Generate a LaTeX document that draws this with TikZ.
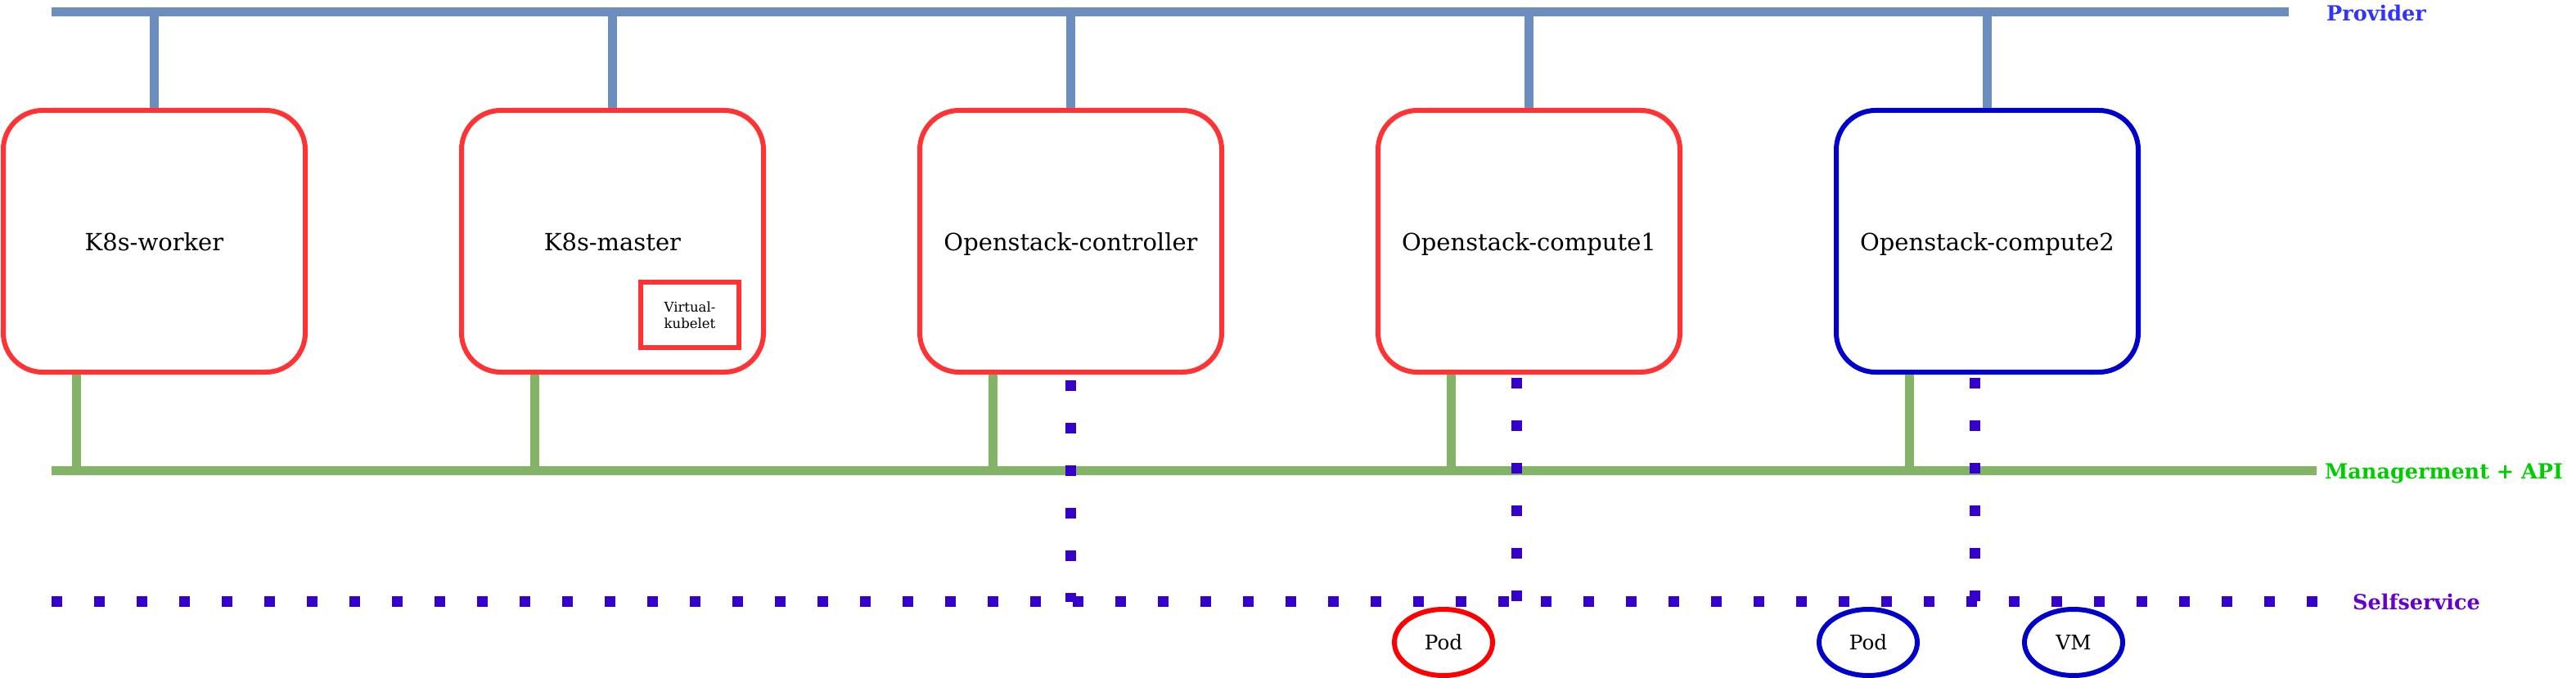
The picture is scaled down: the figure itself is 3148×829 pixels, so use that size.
\documentclass[tikz,border=0pt]{standalone}
\usepackage{fontspec}
\setmainfont{DejaVu Serif}
\usetikzlibrary{shapes.geometric,calc}
\definecolor{provc}{HTML}{6C8EBF}
\definecolor{mgmtc}{HTML}{82B366}
\definecolor{redc}{HTML}{FF3333}
\definecolor{bluec}{HTML}{0000CC}
\definecolor{dotc}{HTML}{3300CC}
\definecolor{podred}{HTML}{FF0000}
\definecolor{provtxt}{HTML}{3333FF}
\definecolor{mgmttxt}{HTML}{00CC00}
\definecolor{selftxt}{HTML}{6600CC}
\tikzset{
 hostbox/.style={draw=redc, line width=6pt, rounded corners=48pt, minimum width=369pt, minimum height=320pt, inner sep=0pt, text height=22pt, text depth=0pt, font=\fontsize{29}{34}\selectfont},
 bluehost/.style={hostbox, draw=bluec},
 vkbox/.style={draw=redc, line width=6pt, minimum width=120pt, minimum height=80pt, inner sep=0pt, align=center, font=\fontsize{16.5}{20}\selectfont},
 podnode/.style={ellipse, draw=podred, line width=6pt, minimum width=120pt, minimum height=81pt, inner sep=0pt, text height=18pt, text depth=0pt, font=\fontsize{24.7}{30}\selectfont},
 bluepod/.style={podnode, draw=bluec},
 provline/.style={draw=provc, line width=11pt},
 mgmtline/.style={draw=mgmtc, line width=11pt},
 selfline/.style={draw=dotc, line width=13pt, dash pattern=on 13pt off 39pt},
 netlabel/.style={anchor=base west, inner sep=0pt, font=\fontsize{25.5}{31}\selectfont\bfseries},
}
\begin{document}
\begin{tikzpicture}[x=1pt,y=-1pt]
\useasboundingbox (0,0) rectangle (3148,829);
% hosts
\node[hostbox] (w) at (188.5,295) {K8s-worker};
\node[hostbox] (m) at (748.5,295) {K8s-master};
\node[hostbox] (c) at (1308.5,295) {Openstack-controller};
\node[hostbox] (c1) at (1868.5,295) {Openstack-compute1};
\node[bluehost] (c2) at (2428.5,295) {Openstack-compute2};
\node[vkbox] (vk) at (843,385) {Virtual-\\kubelet};
% bus end points
\coordinate (pL) at (63,15);
\coordinate (pR) at (2797,15);
\coordinate (gL) at (63,575.5);
\coordinate (gR) at (2831,575.5);
\coordinate (sL) at (63,735.5);
\coordinate (sR) at (2833,735.5);
% provider network
\draw[provline] (pL) -- (pR);
\foreach \n in {w,m,c,c1,c2} {
  \draw[provline] (\n.north) -- (\n.north |- pL);
}
% management network
\draw[mgmtline] (gL) -- (gR);
\foreach \n in {w,m,c,c1,c2} {
  \draw[mgmtline] ($(\n.south)+(-95,0)$) -- ($(\n.south |- gL)+(-95,0)$);
}
% selfservice network
\draw[selfline] (sL) -- (sR);
\draw[selfline, dash phase=45pt] (c.south) -- (c.south |- sL);
\draw[selfline, dash phase=48pt] ($(c1.south)+(-15,0)$) -- ($(c1.south |- sL)+(-15,0)$);
\draw[selfline, dash phase=48pt] ($(c2.south)+(-15,0)$) -- ($(c2.south |- sL)+(-15,0)$);
% pods
\node[podnode] (p1) at (1764,785.5) {Pod};
\node[bluepod] (p2) at (2283,785.5) {Pod};
\node[bluepod] (vm) at (2534,785.5) {VM};
% labels
\node[netlabel, text=provtxt] (lp) at (2843,26) {Provider};
\node[netlabel, text=mgmttxt] (lm) at (2841,585) {Managerment + API};
\node[netlabel, text=selftxt] (ls) at (2875,745) {Selfservice};
\end{tikzpicture}
\end{document}
